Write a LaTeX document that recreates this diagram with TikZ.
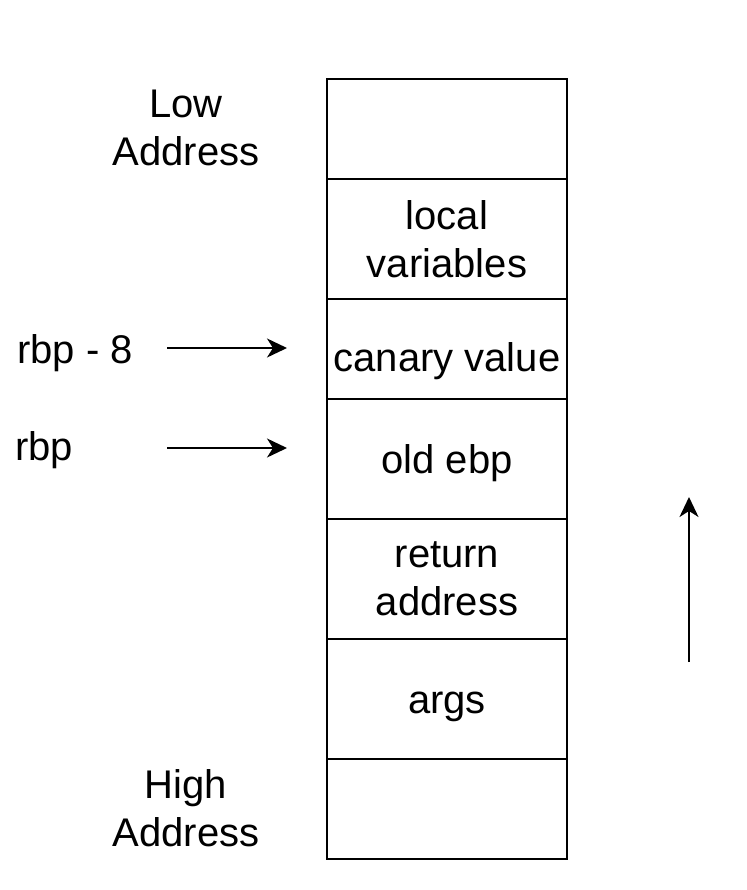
\documentclass[tikz,border=0pt]{standalone}
\usepackage{fontspec}
\setmainfont{Liberation Sans}
\usetikzlibrary {arrows.meta}

\begin{document}
\begin{tikzpicture}[x=0.5pt, y=-0.5pt,
    every node/.style={font=\fontsize{20}{24}\selectfont, align=center},
    cell/.style={draw, line width=0.7pt, minimum width=120pt, inner sep=0pt},
    ptr/.style={-{Stealth[length=10pt,width=9.5pt,inset=3pt]}, line width=1pt}]
    \useasboundingbox (0,0) rectangle (746,890);

    \node[cell, minimum height=50pt] at (447,129)(c0){};
    \node[cell, minimum height=60pt] at (447,239)(c1){local\\variables};
    \node[cell, minimum height=50pt] at (447,349)(c2){};
    \node[cell, minimum height=60pt] at (447,459)(c3){};
    \node[cell, minimum height=60pt] at (447,579)(c4){return\\address};
    \node[cell, minimum height=60pt] at (447,699)(c5){};
    \node[cell, minimum height=50pt] at (447,809)(c6){};

    \node at (447,361)(t2){canary value};
    \node at (447,463)(t3){old ebp};
    \node at (447,707)(t5){args};

    \node at (186,128)(low){Low\\Address};
    \node at (186,808)(high){High\\Address};
    \node[anchor=west, inner sep=0pt] at (17,353)(r8){rbp - 8};
    \node[anchor=west, inner sep=0pt] at (15,450)(r0){rbp};

    \coordinate (a0) at (167,348);
    \coordinate (a1) at (287,348);
    \coordinate (b0) at (167,448);
    \coordinate (b1) at (287,448);
    \coordinate (g0) at (689,662);
    \coordinate (g1) at (689,497);

    \draw[ptr] (a0) -- (a1);
    \draw[ptr] (b0) -- (b1);
    \draw[ptr] (g0) -- (g1);
\end{tikzpicture}
\end{document}
